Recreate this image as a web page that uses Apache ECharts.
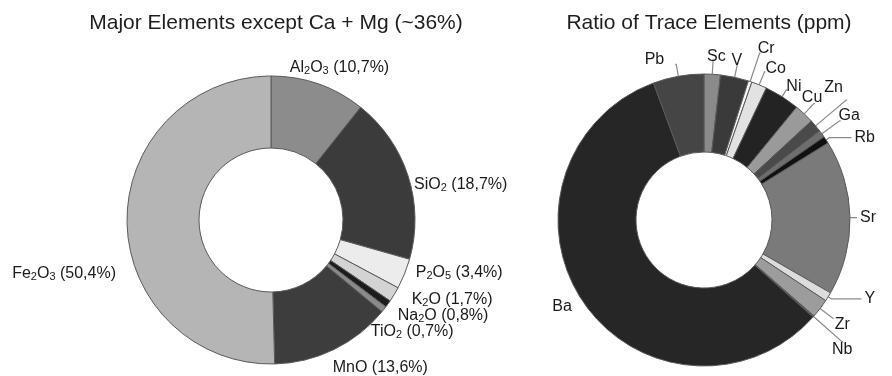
<!DOCTYPE html>
<html>
<head>
<meta charset="utf-8">
<script src="https://cdn.jsdelivr.net/npm/echarts@6/dist/echarts.min.js"></script>
<style>
  html, body { margin: 0; padding: 0; background: #fff; }
  #chart { width: 892px; height: 376px; }
</style>
</head>
<body>
<div id="chart"></div>
<script>
// Major oxides (wt %, excluding Ca + Mg), clockwise from 12 o'clock
const oxideNames = ['Al2O3', 'SiO2', 'P2O5', 'K2O', 'Na2O', 'TiO2', 'MnO', 'Fe2O3'];
const oxideValues = [10.7, 18.7, 3.4, 1.7, 0.8, 0.7, 13.6, 50.4];
const oxideColors = ['#8c8c8c', '#3b3b3b', '#ececec', '#d3d3d3', '#1c1c1c', '#8a8a8a', '#3d3d3d', '#b5b5b5'];
// label nudges (px) for the oxide labels, keyed by name
const oxideLabelShift = {
  Al2O3: [-37, -13], SiO2: [0, 10], P2O5: [5, -3], K2O: [11, 3], Na2O: [10, 0],
  TiO2: [1, -3], MnO: [-10, 14], Fe2O3: [0, 52]
};

// Trace elements (share of total ppm), in order of atomic number
const traceNames = ['Sc', 'V', 'Cr', 'Co', 'Ni', 'Cu', 'Zn', 'Ga', 'Rb', 'Sr', 'Y', 'Zr', 'Nb', 'Ba', 'Pb'];
const traceValues = [1.8, 3.1, 0.4, 1.7, 3.9, 2.2, 1.4, 0.8, 0.8, 17.1, 1.0, 2.1, 0.15, 57.6, 5.6];
const traceColors = ['#8a8a8a', '#3a3a3a', '#f7f7f7', '#e2e2e2', '#232323', '#9a9a9a', '#4a4a4a', '#6e6e6e', '#111111',
                     '#7a7a7a', '#dcdcdc', '#9c9c9c', '#555555', '#262626', '#454545'];
// leader line lengths [radial, horizontal] for each trace label
const traceLeader = {
  Sc: [14, 1], V: [14, 1], Cr: [30, 1], Co: [14, 1], Ni: [8, 1], Cu: [14, 1], Zn: [40, 1],
  Ga: [22, 1], Rb: [4, 22], Sr: [3, 4], Y: [4, 30], Zr: [16, 1], Nb: [38, 1], Ba: [3, 4], Pb: [12, 1]
};
// label nudges (px) for the trace labels
const traceLabelShift = {
  Sc: [-10, -4], V: [-10, -3], Cr: [-6, -4], Co: [-3, -3], Ni: [-4, -3], Cu: [-16, -6], Zn: [-26, -12],
  Ga: [-5, -5], Pb: [-8, -5], Ba: [-2, 3], Nb: [-14, 8], Zr: [-2, 6]
};

const FONT = '"Liberation Sans", Arial, sans-serif';

// Turn a formula such as "Al2O3" into rich-text fragments with subscript digits
function formulaRich(name) {
  return name.replace(/(\D+)|(\d+)/g, (m, letters, digits) =>
    letters ? '{n|' + letters + '}' : '{s|' + digits + '}');
}

function pct(v) {
  return v.toFixed(1).replace('.', ',') + '%';
}

const chart = echarts.init(document.getElementById('chart'), null, { renderer: 'canvas' });

chart.setOption({
  animation: false,
  backgroundColor: '#ffffff',
  title: [
    {
      text: 'Major Elements except Ca + Mg (~36%)',
      left: 271, top: 8, textAlign: 'center',
      textStyle: { fontFamily: FONT, fontSize: 21, fontWeight: 'normal', color: '#1e1e1e' }
    },
    {
      text: 'Ratio of Trace Elements (ppm)',
      left: 704, top: 8, textAlign: 'center',
      textStyle: { fontFamily: FONT, fontSize: 21, fontWeight: 'normal', color: '#1e1e1e' }
    }
  ],
  series: [
    {
      type: 'pie',
      center: [271, 220],
      radius: [72, 144],
      startAngle: 90,
      clockwise: true,
      avoidLabelOverlap: true,
      itemStyle: { borderColor: '#5a5a5a', borderWidth: 1 },
      label: {
        show: true,
        position: 'outside',
        color: '#1a1a1a',
        fontFamily: FONT,
        overflow: 'none',
        formatter: p => formulaRich(p.name) + '{n| (' + pct(p.value) + ')}',
        rich: {
          n: { fontFamily: FONT, fontSize: 16, color: '#1a1a1a', lineHeight: 18 },
          s: { fontFamily: FONT, fontSize: 11, color: '#1a1a1a', lineHeight: 12, verticalAlign: 'bottom' }
        }
      },
      labelLine: { show: false, length: 4, length2: 2 },
      labelLayout: p => {
        const s = oxideLabelShift[oxideNames[p.dataIndex]] || [0, 0];
        return { dx: s[0], dy: s[1] };
      },
      emphasis: { disabled: true },
      data: oxideNames.map((n, i) => ({ name: n, value: oxideValues[i], itemStyle: { color: oxideColors[i] } }))
    },
    {
      type: 'pie',
      center: [704, 220],
      radius: [68, 146],
      startAngle: 90,
      clockwise: true,
      avoidLabelOverlap: false,
      itemStyle: { borderColor: '#5a5a5a', borderWidth: 1 },
      label: {
        show: true,
        position: 'outside',
        fontFamily: FONT,
        fontSize: 16,
        color: '#1a1a1a',
        overflow: 'none',
        distanceToLabelLine: 3,
        formatter: '{b}'
      },
      labelLine: { show: true, length: 6, length2: 8, lineStyle: { color: '#8a8a8a', width: 1.2 } },
      labelLayout: p => {
        const s = traceLabelShift[traceNames[p.dataIndex]];
        return s ? { dx: s[0], dy: s[1] } : {};
      },
      emphasis: { disabled: true },
      data: traceNames.map((n, i) => ({
        name: n,
        value: traceValues[i],
        itemStyle: { color: traceColors[i] },
        labelLine: {
          show: n !== 'Ba',
          length: traceLeader[n][0],
          length2: traceLeader[n][1]
        }
      }))
    }
  ]
});
</script>
</body>
</html>
